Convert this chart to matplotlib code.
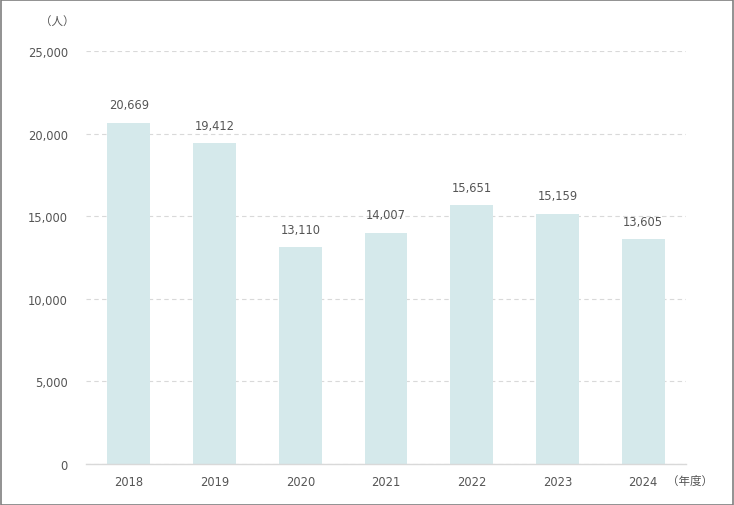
import matplotlib
matplotlib.use("Agg")
import matplotlib.pyplot as plt

plt.rcParams['font.family'] = ['DejaVu Sans', 'Noto Sans CJK JP']

years = ["2018", "2019", "2020", "2021", "2022", "2023", "2024"]
values = [20669, 19412, 13110, 14007, 15651, 15159, 13605]
yticks = [0, 5000, 10000, 15000, 20000, 25000]

W, H = 734, 506
fig = plt.figure(figsize=(W / 100, H / 100), dpi=100)
ax = fig.add_axes([86 / W, 41 / H, 600 / W, 413 / H])

text_color = "#555555"
fs = 8.3
x = list(range(len(years)))
ax.bar(x, values, width=0.5, color="#d5e9eb", zorder=2)
for xi, v in zip(x, values):
    ax.annotate(f"{v:,}", (xi, v), xytext=(0, 8), textcoords="offset points",
                ha="center", va="bottom", fontsize=fs, color=text_color)

ax.set_xlim(-0.5, len(years) - 0.5)
ax.set_ylim(0, 25000)
ax.set_yticks(yticks)
ax.set_yticklabels([f"{t:,}" for t in yticks])
ax.set_xticks(x)
ax.set_xticklabels(years)
ax.tick_params(axis="both", length=0, labelsize=fs, labelcolor=text_color)
ax.tick_params(axis="y", pad=13)
ax.tick_params(axis="x", pad=8)

ax.yaxis.grid(True, linestyle=(0, (4, 3)), color="#d9d9d9", linewidth=0.8, zorder=0)
ax.set_axisbelow(True)
for s in ["top", "right", "left"]:
    ax.spines[s].set_visible(False)
ax.spines["bottom"].set_color("#d9d9d9")
ax.spines["bottom"].set_linewidth(1.0)

fig.text(40 / W, 1 - 22 / H, "（人）", fontsize=fs, color=text_color, ha="left", va="center",
         family=['Noto Sans CJK JP', 'DejaVu Sans'])
fig.text(667 / W, 1 - 481 / H, "（年度）", fontsize=fs, color=text_color, ha="left", va="center",
         family=['Noto Sans CJK JP', 'DejaVu Sans'])

border = plt.Rectangle((0.5 / W, 0.5 / H), 1 - 1.5 / W, 1 - 1.5 / H, transform=fig.transFigure,
                       fill=False, edgecolor="#7f7f7f", linewidth=1.2)
fig.patches.append(border)

fig.savefig("out.png", dpi=100)
